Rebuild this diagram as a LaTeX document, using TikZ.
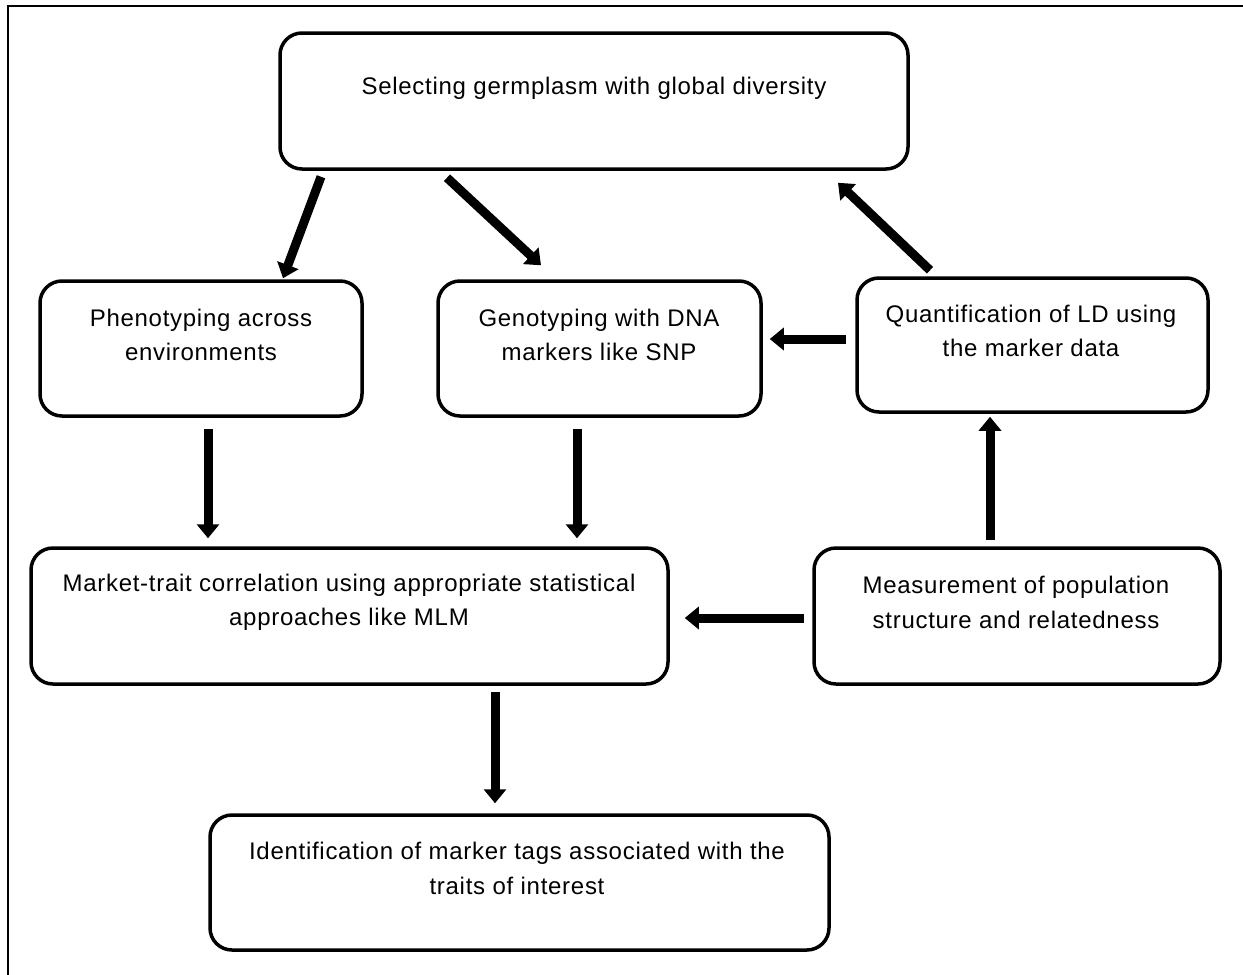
\documentclass[tikz,border=0pt]{standalone}
\usepackage{fontspec}
\setmainfont[LetterSpace=3]{Liberation Sans}
\usetikzlibrary{arrows.meta}
\begin{document}
\begin{tikzpicture}[x=1pt,y=-1pt,
  box/.style={draw,line width=3.5pt,rounded corners=22pt,inner sep=0pt},
  txt/.style={align=center,font=\fontsize{24}{34.5}\selectfont,inner sep=0pt},
  arr/.style={line width=9pt,-{Triangle[length=14pt,width=22pt]}},
  frame/.style={line width=2.5pt}]
\useasboundingbox (0,0) rectangle (1243,975);
\coordinate (fb) at (8,980);
\coordinate (fc) at (8,6);
\coordinate (fr) at (1250,6);
\draw[frame] (fb) -- (fc) -- (fr);
% boxes
\node[box,minimum width=628pt,minimum height=136pt] (b1) at (594,101) {};
\node[box,minimum width=322pt,minimum height=135pt] (b2) at (201,348.5) {};
\node[box,minimum width=323pt,minimum height=135pt] (b3) at (599.5,348.5) {};
\node[box,minimum width=351pt,minimum height=134pt] (b4) at (1032.5,345) {};
\node[box,minimum width=637pt,minimum height=136pt] (b5) at (349.5,616) {};
\node[box,minimum width=406pt,minimum height=136pt] (b6) at (1017,616) {};
\node[box,minimum width=619pt,minimum height=135pt] (b7) at (519.5,882.5) {};
% texts
\node[txt] (t1) at (594,88) {Selecting germplasm with global diversity};
\node[txt] (t2) at (201,335) {Phenotyping across\\environments};
\node[txt] (t3) at (599,335) {Genotyping with DNA\\markers like SNP};
\node[txt] (t4) at (1031,331) {Quantification of LD using\\the marker data};
\node[txt] (t5) at (349,602.5) {Market-trait correlation using appropriate statistical\\approaches like MLM};
\node[txt] (t6) at (1016,602.5) {Measurement of population\\structure and relatedness};
\node[txt] (t7) at (517,868.5) {Identification of marker tags associated with the\\traits of interest};
% arrows
\draw[arr] ([xshift=-273pt,yshift=-6pt]b1.south) -- ([xshift=82pt,yshift=1pt]b2.north);
\draw[arr] ([xshift=-147pt,yshift=-7pt]b1.south) -- ([xshift=-58.5pt,yshift=14pt]b3.north);
\draw[arr] ([xshift=-102.5pt,yshift=6pt]b4.north) -- ([xshift=244pt,yshift=-12pt]b1.south);
\draw[arr] ([xshift=-9pt,yshift=6pt]b4.west) -- ([xshift=7pt,yshift=9.5pt]b3.east);
\draw[arr] ([xshift=7pt,yshift=-11pt]b2.south) -- ([xshift=-141.5pt,yshift=8pt]b5.north);
\draw[arr] ([xshift=-22.5pt,yshift=-11pt]b3.south) -- ([xshift=227.5pt,yshift=8pt]b5.north);
\draw[arr] ([xshift=-27pt,yshift=6pt]b6.north) -- ([xshift=-42.5pt,yshift=-3pt]b4.south);
\draw[arr] ([xshift=-8pt,yshift=-2pt]b6.west) -- ([xshift=15pt,yshift=-2pt]b5.east);
\draw[arr] ([xshift=145.5pt,yshift=-6pt]b5.south) -- ([xshift=-24.5pt,yshift=10pt]b7.north);
\end{tikzpicture}
\end{document}
